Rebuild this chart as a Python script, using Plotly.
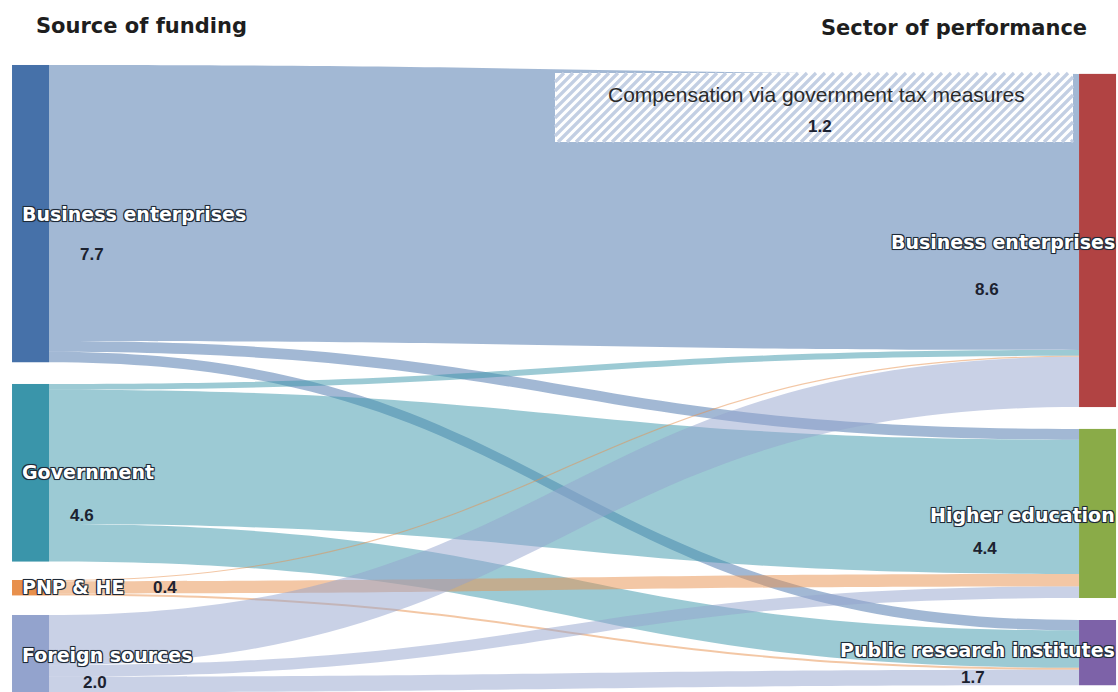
import plotly.graph_objects as go

W, H = 1118, 692

# ---- data ----
funding_sources = ["Business enterprises", "Government", "PNP & HE", "Foreign sources"]
funding_totals = [7.7, 4.6, 0.4, 2.0]
performance_sectors = ["Business enterprises", "Higher education", "Public research institutes"]
performance_totals = [8.6, 4.4, 1.7]
# flows from each funding source to [Business enterprises, Higher education, Public research institutes]
from_business = [7.15, 0.28, 0.27]
from_government = [0.15, 3.48, 0.97]
from_pnp_he = [0.03, 0.32, 0.05]
from_foreign = [1.30, 0.30, 0.40]
tax_compensation = 1.2

flows = [from_business, from_government, from_pnp_he, from_foreign]

# ---- styling ----
src_colors = ["#4671a9", "#3a95aa", "#e8904c", "#93a3cd"]
tgt_colors = ["#b14343", "#8aab48", "#7d62a8"]


def rgba(hexc, a):
    h = hexc.lstrip("#")
    return "rgba(%d,%d,%d,%.2f)" % (int(h[0:2], 16), int(h[2:4], 16), int(h[4:6], 16), a)


src, tgt, val, lcol = [], [], [], []
for i, row in enumerate(flows):
    for j, v in enumerate(row):
        src.append(i)
        tgt.append(len(funding_sources) + j)
        val.append(v)
        lcol.append(rgba(src_colors[i], 0.5))

node_names = funding_sources + performance_sectors
node_x = [0.0273] * 4 + [0.9817] * 3
node_y = [0.3087, 0.6832, 0.8493, 0.9445, 0.3475, 0.7420, 0.9431]

fig = go.Figure(go.Sankey(
    arrangement="fixed",
    domain=dict(x=[0, 1], y=[0, 1]),
    node=dict(
        label=[""] * len(node_names),
        customdata=node_names,
        hovertemplate="%{customdata}: %{value:.1f}<extra></extra>",
        color=src_colors + tgt_colors,
        pad=41.5,
        thickness=37,
        line=dict(width=0),
        x=node_x,
        y=node_y,
    ),
    link=dict(source=src, target=tgt, value=val, color=lcol),
))


def px(x):
    return x / W


def py(y):
    return 1 - y / H


# hatched box for tax-measure compensation
bx0, by0, bx1, by1 = 555, 73, 1073, 142
shapes = [dict(type="rect", xref="paper", yref="paper",
               x0=px(bx0), x1=px(bx1), y0=py(by1), y1=py(by0),
               fillcolor="white", line=dict(width=0), layer="above")]
segs = []
step = 9
c = bx0 + by0
while c <= bx1 + by1:
    lo = max(bx0, c - by1)
    hi = min(bx1, c - by0)
    if hi > lo:
        segs.append("M%.5f,%.5f L%.5f,%.5f" % (px(lo), py(c - lo), px(hi), py(c - hi)))
    c += step
shapes.append(dict(type="path", xref="paper", yref="paper", path=" ".join(segs),
                   line=dict(color="#c3cfe3", width=3.2), layer="above"))

outline = ("1px 1px 0 #1e2a38, -1px -1px 0 #1e2a38, 1px -1px 0 #1e2a38, "
           "-1px 1px 0 #1e2a38, 0 0 2px #1e2a38, 0 0 1px #1e2a38")
lab_font = dict(family="DejaVu Sans", size=19, color="white", weight="bold", shadow=outline)
val_font = dict(family="Liberation Sans, Arial", size=17, color="#1c2230", weight="bold")

ann = []


def add(text, x, y, font, xanchor="center"):
    ann.append(dict(text=text, x=px(x), y=py(y), xref="paper", yref="paper",
                    xanchor=xanchor, yanchor="middle", showarrow=False, font=font))


# titles
title_font = dict(family="DejaVu Sans", size=21, color="#1e1e1e", weight="bold")
add("Source of funding", 34, 26, title_font, "left")
add("Sector of performance", 1089, 28, title_font, "right")

# left labels
left_label_y = [214, 472, 587, 655]
left_val_pos = [(92, 254), (82, 515), (165, 587), (95, 682)]
for name, tot, ly, (vx, vy) in zip(funding_sources, funding_totals, left_label_y, left_val_pos):
    add(name, 20, ly, lab_font, "left")
    add("%.1f" % tot, vx, vy, val_font)

# right labels
right_label_y = [242, 515, 650]
right_val_pos = [(987, 289), (985, 548), (973, 677)]
for name, tot, ly, (vx, vy) in zip(performance_sectors, performance_totals, right_label_y, right_val_pos):
    add(name, 1117, ly, lab_font, "right")
    add("%.1f" % tot, vx, vy, val_font)

# hatched box text
add("Compensation via government tax measures", 816, 95,
    dict(family="Liberation Sans, Arial", size=21, color="#2a2a2a"))
add("%.1f" % tax_compensation, 820, 127, val_font)

fig.update_layout(
    width=W, height=H,
    margin=dict(l=0, r=0, t=0, b=0),
    paper_bgcolor="white",
    shapes=shapes,
    annotations=ann,
    showlegend=False,
)

fig.write_html("out.html", config={"displayModeBar": False},
               post_script="document.body.style.margin='0';")
